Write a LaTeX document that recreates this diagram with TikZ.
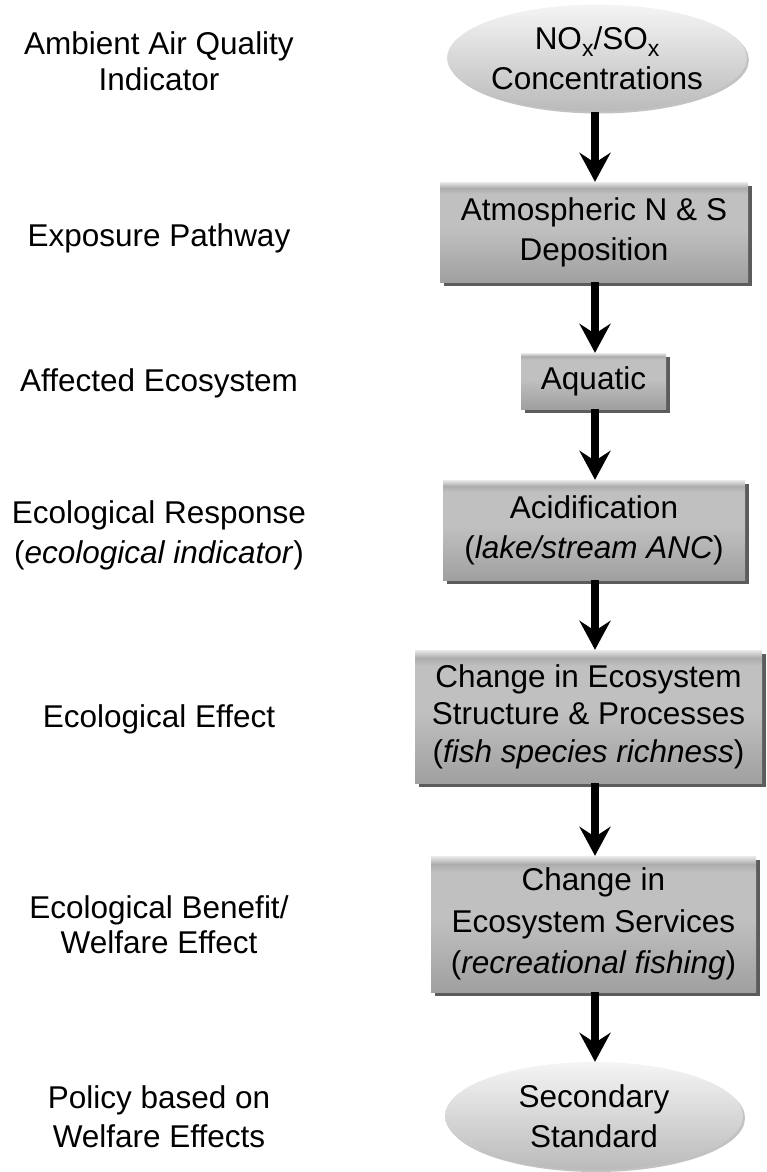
\documentclass[tikz,border=0pt]{standalone}
\usepackage{fontspec}
\setmainfont{Liberation Sans}
\usetikzlibrary{arrows.meta,shapes.geometric,shadows}

\definecolor{boxT}{HTML}{EAEAEA}
\definecolor{boxA}{HTML}{ACACAC}
\definecolor{boxB}{HTML}{C0C0C0}
\definecolor{boxC}{HTML}{A0A0A0}
\definecolor{shadowgrey}{HTML}{5C5C5C}

% grey face of the process boxes: bright top rim, mid grey body, darker base
\pgfdeclareverticalshading{boxface}{100bp}{%
  color(0bp)=(boxC); color(25bp)=(boxC); color(52bp)=(boxB);
  color(69bp)=(boxB); color(72bp)=(boxA); color(75bp)=(boxT); color(100bp)=(boxT)}

% lowered chemical-formula index
\newcommand{\chemidx}[1]{\raisebox{-0.22em}{\fontsize{23}{23}\selectfont #1}}

\tikzset{
  every node/.style={font=\fontsize{31.5}{40}\selectfont, text=black},
  stage/.style={align=center},
  procbox/.style={rectangle, align=center, inner sep=0pt,
    shading=boxface, draw=none,
    drop shadow={shadow xshift=4pt, shadow yshift=-4pt, fill=shadowgrey, opacity=1}},
  endcap/.style={ellipse, align=center, inner sep=0pt,
    top color=black!4, bottom color=black!27, draw=none,
    drop shadow={shadow xshift=2pt, shadow yshift=-2pt, fill=black!40, opacity=0.6}},
  flow/.style={line width=8pt, -{Stealth[length=29pt,width=31pt,inset=10pt]}}
}

\begin{document}
\begin{tikzpicture}[x=1pt, y=-1pt]
  \useasboundingbox (0,0) rectangle (767,1172);

  % axis of the flow arrows
  \coordinate (axis) at (595,0);

  % right column: chain of effects
  \node[endcap, minimum width=289pt, minimum height=107pt] (e1) at (597,58)
    {NO\chemidx{x}/SO\chemidx{x}\\Concentrations};
  \node[procbox, minimum width=308pt, minimum height=100pt] (b1) at (594,232)
    {Atmospheric N \& S\\Deposition};
  \node[procbox, minimum width=145pt, minimum height=56pt] (b2) at (593.5,381)
    {Aquatic};
  \node[procbox, minimum width=302pt, minimum height=100pt] (b3) at (594,530)
    {Acidification\\(\textit{lake/stream ANC})};
  \node[procbox, minimum width=347pt, minimum height=133pt,
        font=\fontsize{31.5}{37.5}\selectfont] (b4) at (588.5,716.5)
    {Change in Ecosystem\\Structure \& Processes\\(\textit{fish species richness})};
  \node[procbox, minimum width=325pt, minimum height=136pt,
        font=\fontsize{31.5}{41.5}\selectfont] (b5) at (593.5,924)
    {Change in\\Ecosystem Services\\(\textit{recreational fishing})};
  \node[endcap, minimum width=298pt, minimum height=108pt] (e2) at (594,1116)
    {Secondary\\Standard};

  % connectors
  \draw[flow] (e1.south -| axis) -- (b1.north -| axis);
  \draw[flow] (b1.south -| axis) -- (b2.north -| axis);
  \draw[flow] (b2.south -| axis) -- (b3.north -| axis);
  \draw[flow] (b3.south -| axis) -- (b4.north -| axis);
  \draw[flow] (b4.south -| axis) -- (b5.north -| axis);
  \draw[flow] (b5.south -| axis) -- (e2.north -| axis);

  % left column: stage names
  \node[stage, font=\fontsize{31.5}{36}\selectfont] (l1) at (159,61)
    {Ambient Air Quality\\Indicator};
  \node[stage] (l2) at (159,238) {Exposure Pathway};
  \node[stage] (l3) at (159,383) {Affected Ecosystem};
  \node[stage] (l4) at (159,535)
    {Ecological Response\\(\textit{ecological indicator})};
  \node[stage] (l5) at (159,719) {Ecological Effect};
  \node[stage, font=\fontsize{31.5}{35.5}\selectfont] (l6) at (159,924.5)
    {Ecological Benefit/\\Welfare Effect};
  \node[stage, font=\fontsize{31.5}{39}\selectfont] (l7) at (159,1117)
    {Policy based on\\Welfare Effects};
\end{tikzpicture}
\end{document}
